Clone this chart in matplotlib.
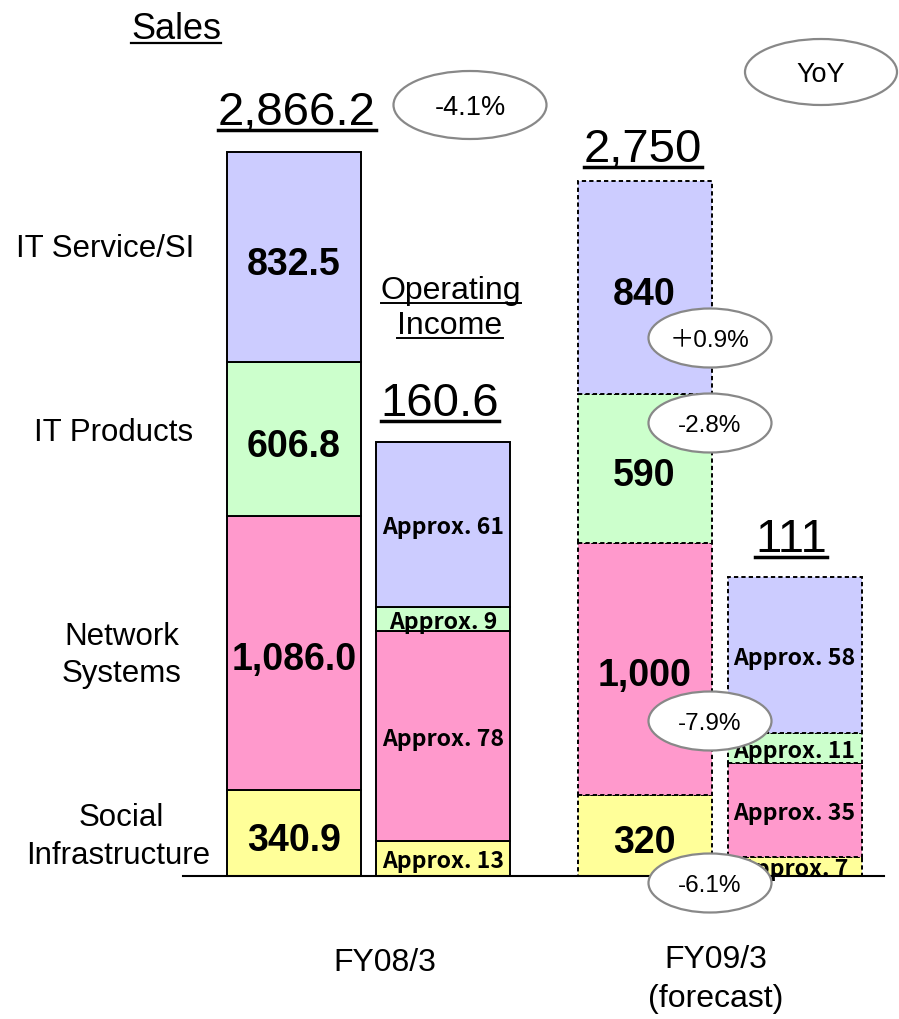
import numpy as np
import matplotlib.pyplot as plt
from matplotlib.patches import Ellipse

# segment order: bottom -> top
segments = ['Social Infrastructure', 'Network Systems', 'IT Products', 'IT Service/SI']
colors = ['#FFFF99', '#FF99CC', '#CCFFCC', '#CCCCFF']

sales_fy08 = [340.9, 1086.0, 606.8, 832.5]
sales_fy09 = [320, 1000, 590, 840]
oi_fy08 = [13, 78, 9, 61]
oi_fy09 = [7, 35, 11, 58]
sales_total = ['2,866.2', '2,750']
oi_total = ['160.6', '111']
yoy_total = '-4.1%'
yoy_seg = ['-6.1%', '-7.9%', '-2.8%', '\uff0b0.9%']   # bottom -> top

W, H = 899, 1019
base = 876                     # pixel row of the baseline
sales_px = 0.2526              # pixels per sales unit
oi_px = 2.695                  # pixels per operating income unit

FONT = ['Liberation Sans', 'DejaVu Sans']
GOTHIC = ['Noto Sans CJK JP', 'DejaVu Sans']

fig = plt.figure(figsize=(W / 100, H / 100), dpi=100)
ax_s = fig.add_axes([0, (H - base) / H, 1, base / H])
ax_o = fig.add_axes([0, (H - base) / H, 1, base / H])
ax_t = fig.add_axes([0, 0, 1, 1])
ax_s.set_ylim(0, base / sales_px)
ax_o.set_ylim(0, base / oi_px)
ax_t.set_ylim(H, 0)
for a, z in [(ax_s, 1), (ax_o, 2), (ax_t, 5)]:
    a.set_xlim(0, W)
    a.axis('off')
    a.patch.set_visible(False)
    a.set_zorder(z)


def stack(ax, x, vals, ls, fmt, size, fam, drop):
    bottom = 0
    for v, c in zip(vals, colors):
        ax.bar(x, v, bottom=bottom, width=134, color=c, edgecolor='black',
               linewidth=1.4, linestyle=ls)
        ax.annotate(fmt(v), (x, bottom + v / 2), xytext=(0, -0.358 * size - drop),
                    textcoords='offset points', ha='center', va='baseline',
                    fontsize=size, fontweight='bold', family=fam)
        bottom += v


dash = (0, (2.2, 1.6))
stack(ax_s, 294, sales_fy08, '-', lambda v: f'{v:,.1f}', 27, FONT, 3)
stack(ax_s, 644.5, sales_fy09, dash, lambda v: f'{v:,.0f}', 27, FONT, 3)
stack(ax_o, 443, oi_fy08, '-', lambda v: f'Approx. {v}', 16.6, GOTHIC, 1.2)
stack(ax_o, 794.5, oi_fy09, dash, lambda v: f'Approx. {v}', 16.6, GOTHIC, 1.2)

# baseline
ax_t.plot([183, 884], [base, base], color='black', lw=1.5, zorder=1)

# plain labels (x, baseline y, text, size)
labels = [
    (105, 257, 'IT Service/SI', 22.5), (114, 441, 'IT Products', 22.5),
    (122, 645, 'Network', 22.5), (122, 682, 'Systems', 22.5),
    (121, 826, 'Social', 22.5), (118, 864, 'Infrastructure', 22.5),
    (385, 971, 'FY08/3', 23), (716, 968, 'FY09/3', 23), (716, 1007, '(forecast)', 23),
]
for x, y, s, fs in labels:
    ax_t.text(x, y, s, ha='center', va='baseline', fontsize=fs, family=FONT)

# underlined labels
under = [
    (176, 39, 'Sales', 26, 1.6), (451, 299, 'Operating', 23, 1.4), (450, 334, 'Income', 23, 1.4),
    (297, 125, sales_total[0], 34, 2.5), (643, 162, sales_total[1], 34, 2.5),
    (440, 416, oi_total[0], 34, 2.5), (791, 552, oi_total[1], 34, 2.5),
]
utexts = []
for x, y, s, fs, lw in under:
    t = ax_t.text(x, y, s, ha='center', va='baseline', fontsize=fs, family=FONT)
    utexts.append((t, y, fs, lw))

# YoY ellipses (cx, cy, w, h, text, size)
ells = [(470, 105, 153, 68, yoy_total, 19.5), (821, 72, 152, 66, 'YoY', 19.5),
        (710, 338, 123, 59, yoy_seg[3], 17.5), (710, 423, 123, 59, yoy_seg[2], 17.5),
        (710, 721, 123, 59, yoy_seg[1], 17.5), (710, 883, 123, 59, yoy_seg[0], 17.5)]
for cx, cy, w, h, s, fs in ells:
    ax_t.add_patch(Ellipse((cx, cy), w, h, facecolor='white', edgecolor='#888888',
                           lw=1.6, zorder=3))
    ax_t.text(cx, cy + 0.358 * fs * 100 / 72, s, ha='center', va='baseline', fontsize=fs,
              family=['Liberation Sans', 'Noto Sans CJK JP'], zorder=4)

fig.canvas.draw()
for t, y, fs, lw in utexts:
    bb = t.get_window_extent()
    off = 0.11 * fs * 100 / 72
    ax_t.plot([bb.x0, bb.x1], [y + off, y + off], color='black', lw=lw, zorder=2)

fig.savefig('out.png', dpi=100)
